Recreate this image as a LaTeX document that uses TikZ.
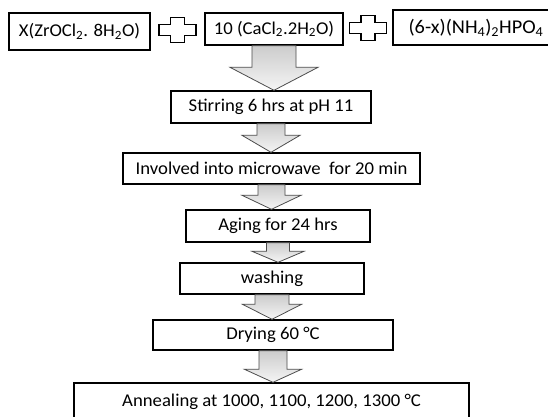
\documentclass[tikz,border=0pt]{standalone}
\usepackage{fontspec}
\setmainfont{Carlito}[FakeStretch=1.04]
\usetikzlibrary{calc}
\tikzset{
    stepbox/.style={draw=black, line width=1.4pt, fill=white, inner sep=0pt, font=\fontsize{18}{21}\selectfont},
    flowarrow/.style={draw=gray!60!black, line width=0.8pt, top color=gray!40, bottom color=gray!8},
    plusmark/.style={draw=black, line width=1.3pt, fill=white}
}
\newcommand{\blockarrow}[5]{%
    \draw[flowarrow] let \p1=(#1.south), \p2=(#2.north) in
        (\x1-#3,\y1) -- (\x1+#3,\y1) -- (\x1+#3,\y2+#5) -- (\x1+#4,\y2+#5) -- (\x1,\y2)
        -- (\x1-#4,\y2+#5) -- (\x1-#3,\y2+#5) -- cycle;}
\newcommand{\plussign}[1]{%
    \draw[plusmark, shift={(#1)}] (-7,-12.5) -- (7,-12.5) -- (7,-5.5) -- (18.5,-5.5) -- (18.5,5.5)
        -- (7,5.5) -- (7,12.5) -- (-7,12.5) -- (-7,5.5) -- (-18.5,5.5) -- (-18.5,-5.5) -- (-7,-5.5) -- cycle;}
\begin{document}
\begin{tikzpicture}[x=1pt, y=-1pt]
    \useasboundingbox (0,0) rectangle (548,416);
    \clip (0,0) rectangle (548,416);
    \fill[white] (0,0) rectangle (548,416);
    \node[stepbox, minimum width=141pt, minimum height=37pt] (zr) at (79.5,31.5) {X(ZrOCl\textsubscript{2}. 8H\textsubscript{2}O)};
    \node[stepbox, minimum width=138pt, minimum height=32pt] (ca) at (274,29) {10 (CaCl\textsubscript{2}.2H\textsubscript{2}O)};
    \node[stepbox, minimum width=166pt, minimum height=35pt, font=\fontsize{19.5}{22}\selectfont] (po) at (476,27.5) {(6-x)(NH\textsubscript{4})\textsubscript{2}HPO\textsubscript{4}};
    \node[stepbox, minimum width=200pt, minimum height=32pt] (stir) at (271,107) {Stirring 6 hrs at pH 11};
    \node[stepbox, minimum width=297pt, minimum height=31pt] (inv) at (271.5,168.5) {Involved into microwave\ \ for 20 min};
    \node[stepbox, minimum width=184pt, minimum height=32pt] (aging) at (278,226) {Aging for 24 hrs};
    \node[stepbox, minimum width=184pt, minimum height=31pt] (wash) at (272,278.5) {washing};
    \node[stepbox, minimum width=240pt, minimum height=30pt] (dry) at (273,335) {Drying 60 °C};
    \node[stepbox, minimum width=395pt, minimum height=38pt] (ann) at (271.5,402) {Annealing at 1000, 1100, 1200, 1300 °C};
    \coordinate (p1) at ($(zr.east)!0.5!(ca.west)$);
    \coordinate (p2) at ($(ca.east)!0.5!(po.west)$);
    \plussign{p1}
    \plussign{p2}
    \blockarrow{ca}{stir}{22pt}{44pt}{23pt}
    \blockarrow{stir}{inv}{14pt}{29pt}{17pt}
    \blockarrow{inv}{aging}{13.5pt}{29.5pt}{14pt}
    \blockarrow{aging}{wash}{11.5pt}{26pt}{11pt}
    \blockarrow{wash}{dry}{17pt}{29.5pt}{15pt}
    \blockarrow{dry}{ann}{14pt}{28.5pt}{13pt}
\end{tikzpicture}
\end{document}
